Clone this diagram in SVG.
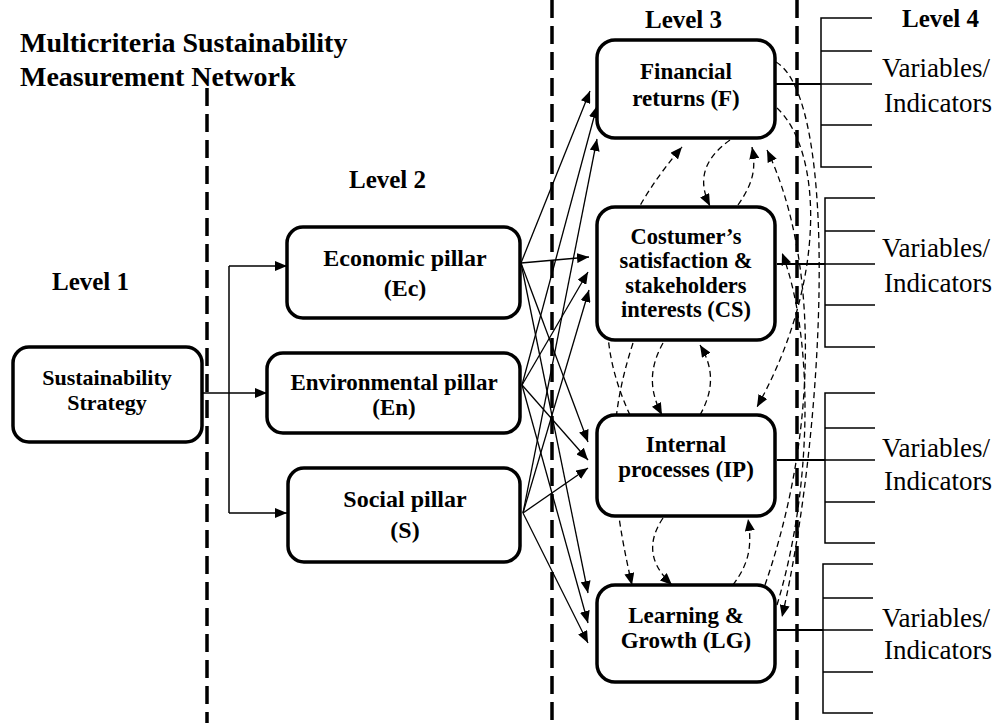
<svg xmlns="http://www.w3.org/2000/svg" width="997" height="723" viewBox="0 0 997 723">
<defs>
<marker id="ah" viewBox="0 0 12 10" refX="12" refY="5" markerWidth="12" markerHeight="10" markerUnits="userSpaceOnUse" orient="auto"><path d="M0,0 L12,5 L0,10 z" fill="#000" stroke="none"/></marker>
</defs>
<style>
text{font-family:"Liberation Serif","Times New Roman",Times,"DejaVu Serif",serif}
.box{fill:#fff;stroke:#000;stroke-width:3.5}
.bt{font-weight:bold;fill:#000;text-anchor:middle}
.lvl{font-weight:bold;font-size:25px;fill:#000}
.var{font-size:27px;fill:#000}
.div{stroke:#000;stroke-width:3.5;stroke-dasharray:18 8;fill:none}
.sol{stroke:#000;stroke-width:1.3;fill:none;marker-end:url(#ah)}
.dsh{stroke:#000;stroke-width:1.3;fill:none;stroke-dasharray:6 4;marker-end:url(#ah)}
.br{stroke:#000;stroke-width:1.5;fill:none}
.link{stroke:#000;stroke-width:2.2;fill:none}
</style>
<rect width="997" height="723" fill="#fff"/>

<g id="title">
<text class="lvl" x="20" y="52" style="font-size:28px">Multicriteria Sustainability</text>
<text class="lvl" x="20" y="86" style="font-size:28px">Measurement Network</text>
</g>
<g id="levels">
<text class="lvl" x="52" y="290">Level 1</text>
<text class="lvl" x="349" y="188">Level 2</text>
<text class="lvl" x="645" y="28">Level 3</text>
<text class="lvl" x="902" y="27">Level 4</text>
</g>

<g id="dividers">
<line class="div" x1="207" y1="88" x2="207" y2="723"/>
<line class="div" x1="552" y1="0" x2="552" y2="723"/>
<line class="div" x1="797" y1="0" x2="797" y2="723"/>
</g>

<g id="level4">
<path class="br" d="M872,18 H821 V167 H872 M821,51 H872 M821,84 H872 M821,125 H872"/>
<path class="br" d="M875,198 H825 V347 H875 M825,231 H875 M825,264 H875 M825,305 H875"/>
<path class="br" d="M875,393 H825 V543 H875 M825,428 H875 M825,460 H875 M825,502 H875"/>
<path class="br" d="M873,564 H823 V713 H873 M823,598 H873 M823,630 H873 M823,672 H873"/>
<text class="var" x="882" y="77">Variables/</text>
<text class="var" x="884" y="112">Indicators</text>
<text class="var" x="882" y="257">Variables/</text>
<text class="var" x="884" y="292">Indicators</text>
<text class="var" x="882" y="457">Variables/</text>
<text class="var" x="884" y="490">Indicators</text>
<text class="var" x="882" y="627">Variables/</text>
<text class="var" x="884" y="659">Indicators</text>
</g>

<g id="connectors">
<path class="sol" d="M202,393 H267"/>
<path class="br" d="M229,266 V513"/>
<path class="sol" d="M229,266 H287"/>
<path class="sol" d="M229,513 H287"/>
<path class="sol" d="M521,263 L590,91"/>
<path class="sol" d="M521,263 L589,257"/>
<path class="sol" d="M521,263 L588,442"/>
<path class="sol" d="M521,263 L588,593"/>
<path class="sol" d="M522,385 L597,106"/>
<path class="sol" d="M522,385 L588,272"/>
<path class="sol" d="M522,385 L588,460"/>
<path class="sol" d="M522,385 L588,623"/>
<path class="sol" d="M523,513 L597,139"/>
<path class="sol" d="M523,513 L589,290"/>
<path class="sol" d="M523,513 L588,468"/>
<path class="sol" d="M523,513 L588,643"/>
<path class="link" d="M776,84 H821"/>
<path class="link" d="M777,264 H825"/>
<path class="link" d="M777,460 H825"/>
<path class="link" d="M777,630 H823"/>
<path class="dsh" d="M730,140 C702,160 698,182 710,206"/>
<path class="dsh" d="M738,205 C754,182 756,168 752,147"/>
<path class="dsh" d="M630,415 C600,350 585,260 682,147"/>
<path class="dsh" d="M633,343 C608,420 608,480 632,585"/>
<path class="dsh" d="M663,343 C648,370 650,392 662,415"/>
<path class="dsh" d="M700,415 C714,390 714,368 700,345"/>
<path class="dsh" d="M663,518 C645,545 652,566 672,585"/>
<path class="dsh" d="M733,585 C750,562 752,545 748,519"/>
<path class="dsh" d="M776,62 C840,100 825,430 782,617"/>
<path class="dsh" d="M777,108 C822,150 828,280 757,407"/>
<path class="dsh" d="M765,585 C822,420 815,250 767,150"/>
<path class="dsh" d="M777,605 C815,480 812,330 782,253"/>
</g>

<g id="strategy">
<rect class="box" x="13" y="347" width="189" height="95" rx="16"/>
<text class="bt" x="107" y="385" font-size="22">Sustainability</text>
<text class="bt" x="107" y="410" font-size="22">Strategy</text>
</g>
<g id="economic">
<rect class="box" x="287" y="227" width="233" height="91" rx="16"/>
<text class="bt" x="405" y="266" font-size="24">Economic pillar</text>
<text class="bt" x="405" y="296" font-size="24">(Ec)</text>
</g>
<g id="environmental">
<rect class="box" x="267" y="353" width="253" height="80" rx="16"/>
<text class="bt" x="394" y="390" font-size="23">Environmental pillar</text>
<text class="bt" x="394" y="415" font-size="23">(En)</text>
</g>
<g id="social">
<rect class="box" x="288" y="468" width="232" height="94" rx="16"/>
<text class="bt" x="405" y="507" font-size="24">Social pillar</text>
<text class="bt" x="405" y="538" font-size="24">(S)</text>
</g>
<g id="financial">
<rect class="box" x="597" y="40" width="178" height="98" rx="18"/>
<text class="bt" x="686" y="79" font-size="23">Financial</text>
<text class="bt" x="686" y="106" font-size="23">returns (F)</text>
</g>
<g id="customer">
<rect class="box" x="597" y="207" width="178" height="133" rx="18"/>
<text class="bt" x="686" y="244" font-size="22.5">Costumer’s</text>
<text class="bt" x="686" y="268" font-size="22.5">satisfaction &amp;</text>
<text class="bt" x="686" y="293" font-size="22.5">stakeholders</text>
<text class="bt" x="686" y="317" font-size="22.5">interests (CS)</text>
</g>
<g id="internal">
<rect class="box" x="597" y="415" width="178" height="101" rx="18"/>
<text class="bt" x="686" y="452" font-size="23">Internal</text>
<text class="bt" x="686" y="477" font-size="23">processes (IP)</text>
</g>
<g id="learning">
<rect class="box" x="597" y="585" width="178" height="97" rx="18"/>
<text class="bt" x="686" y="623" font-size="23">Learning &amp;</text>
<text class="bt" x="686" y="648" font-size="23">Growth (LG)</text>
</g>
</svg>
